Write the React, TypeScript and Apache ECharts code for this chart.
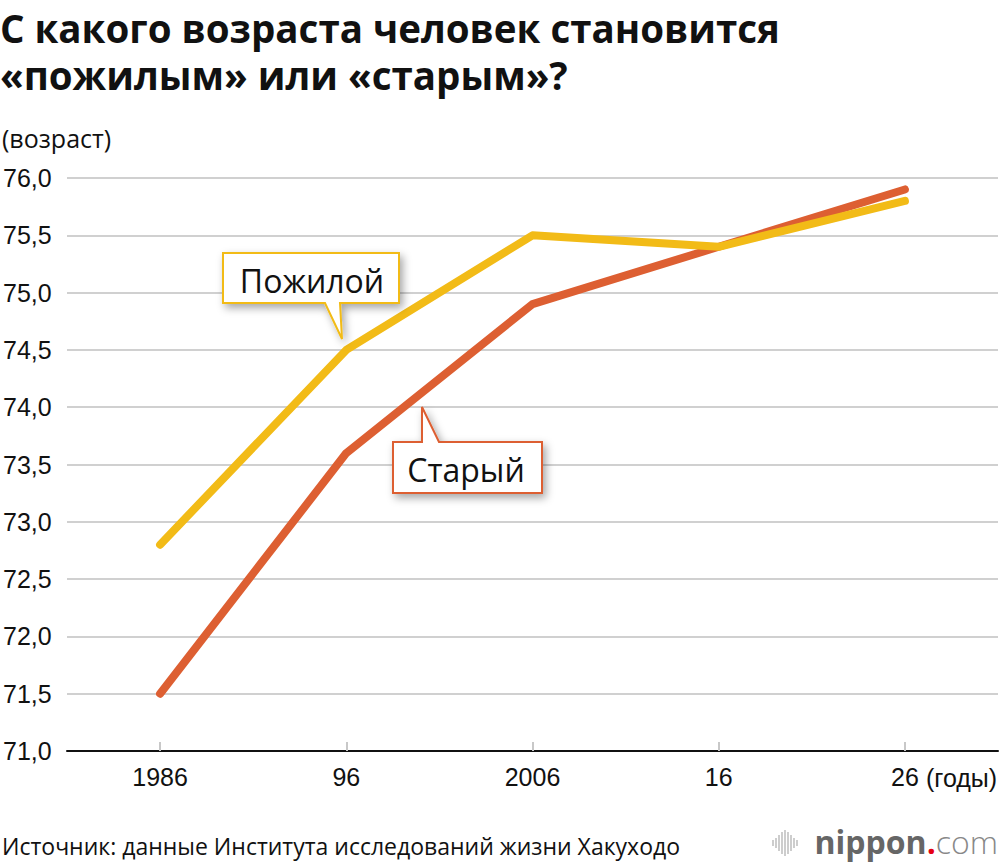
import React, { useEffect, useRef } from "react";
import * as echarts from "echarts";

const categories = ["1986", "96", "2006", "16", "26"];
const elderlyValues = [72.8, 74.5, 75.5, 75.4, 75.8]; // Пожилой
const oldValues = [71.5, 73.6, 74.9, 75.4, 75.9]; // Старый
const yTicks = { min: 71, max: 76, interval: 0.5 };
const titleLines = ["С какого возраста человек становится", "«пожилым» или «старым»?"];

const YELLOW = "#F2BB17";
const ORANGE = "#DD5F32";
const AXIS_FONT = "'Liberation Sans', Arial, sans-serif";
const TEXT_FONT = "'Open Sans', 'Noto Sans', sans-serif";

export default function App() {
  const ref = useRef<HTMLDivElement>(null);
  useEffect(() => {
    if (!ref.current) return;
    const chart = echarts.init(ref.current, undefined, { renderer: "svg" });
    const shadow = {
      shadowBlur: 8,
      shadowColor: "rgba(0,0,0,0.35)",
      shadowOffsetX: 3,
      shadowOffsetY: 4,
    };
    const logoBars = [6, 10, 16, 22, 26, 22, 16, 10, 6];
    const option: any = {
      animation: false,
      backgroundColor: "#fff",
      grid: { left: 66, right: 2, top: 178, bottom: 115, containLabel: false },
      xAxis: {
        type: "category",
        data: categories,
        boundaryGap: true,
        axisLine: { show: true, lineStyle: { color: "#111", width: 2 } },
        axisTick: {
          show: true,
          inside: true,
          alignWithLabel: true,
          length: 9,
          lineStyle: { color: "#c8c8c8", width: 2 },
        },
        axisLabel: {
          margin: 13,
          color: "#111",
          fontFamily: AXIS_FONT,
          fontSize: 25,
        },
        splitLine: { show: false },
      },
      yAxis: {
        type: "value",
        min: yTicks.min,
        max: yTicks.max,
        interval: yTicks.interval,
        axisLine: { show: false },
        axisTick: { show: false },
        axisLabel: {
          align: "left",
          margin: 64,
          color: "#111",
          fontFamily: AXIS_FONT,
          fontSize: 25,
          formatter: (v: number) => v.toFixed(1).replace(".", ","),
        },
        splitLine: { show: true, lineStyle: { color: "#d0d0d0", width: 2 } },
      },
      series: [
        {
          name: "Старый",
          type: "line",
          data: oldValues,
          symbol: "none",
          lineStyle: { color: ORANGE, width: 8, cap: "round", join: "round" },
          z: 3,
        },
        {
          name: "Пожилой",
          type: "line",
          data: elderlyValues,
          symbol: "none",
          lineStyle: { color: YELLOW, width: 8, cap: "round", join: "round" },
          z: 4,
        },
      ],
      graphic: [
        ...titleLines.map((t, i) => ({
          type: "text",
          x: 0,
          y: 28 + i * 47,
          style: {
            text: t,
            font: `bold 38.5px ${TEXT_FONT}`,
            fill: "#111",
            verticalAlign: "middle",
          },
        })),
        {
          type: "text",
          x: 2,
          y: 138,
          style: {
            text: "(возраст)",
            font: `25px ${TEXT_FONT}`,
            fill: "#111",
            verticalAlign: "middle",
          },
        },
        {
          type: "text",
          x: 926,
          y: 778,
          style: {
            text: "(годы)",
            font: `25px ${AXIS_FONT}`,
            fill: "#111",
            verticalAlign: "middle",
          },
        },
        {
          type: "polygon",
          shape: {
            points: [
              [223, 253], [399, 253], [399, 303], [340, 303],
              [342, 339], [325, 303], [223, 303],
            ],
          },
          style: { fill: "#fff", stroke: YELLOW, lineWidth: 2, ...shadow },
          z: 10,
        },
        {
          type: "text",
          x: 312,
          y: 280,
          style: {
            text: "Пожилой",
            font: `32px ${TEXT_FONT}`,
            fill: "#111",
            align: "center",
            verticalAlign: "middle",
          },
          z: 11,
        },
        {
          type: "polygon",
          shape: {
            points: [
              [393, 442], [422, 442], [422, 407], [439, 442],
              [542, 442], [542, 493], [393, 493],
            ],
          },
          style: { fill: "#fff", stroke: ORANGE, lineWidth: 2, ...shadow },
          z: 10,
        },
        {
          type: "text",
          x: 466,
          y: 469,
          style: {
            text: "Старый",
            font: `32px ${TEXT_FONT}`,
            fill: "#111",
            align: "center",
            verticalAlign: "middle",
          },
          z: 11,
        },
        {
          type: "text",
          x: 2,
          y: 846,
          style: {
            text: "Источник: данные Института исследований жизни Хакуходо",
            font: `23px ${TEXT_FONT}`,
            fill: "#111",
            verticalAlign: "middle",
          },
        },
        ...logoBars.map((h, i) => ({
          type: "line",
          shape: { x1: 773 + i * 3, y1: 843 - h / 2, x2: 773 + i * 3, y2: 843 + h / 2 },
          style: { stroke: "#bdbdbd", lineWidth: 1.5 },
        })),
        {
          type: "text",
          x: 998,
          y: 841,
          style: {
            text: "{a|nippon}{b|.}{c|com}",
            align: "right",
            verticalAlign: "middle",
            rich: {
              a: { font: `bold 32px ${TEXT_FONT}`, fill: "#666" },
              b: { font: `bold 32px ${TEXT_FONT}`, fill: "#e60012" },
              c: { font: `300 32px ${TEXT_FONT}`, fill: "#888" },
            },
          },
        },
      ],
    };
    chart.setOption(option);
    return () => chart.dispose();
  }, []);
  return (
    <div
      ref={ref}
      style={{ position: "absolute", left: 0, top: 0, width: 1000, height: 866 }}
    />
  );
}
